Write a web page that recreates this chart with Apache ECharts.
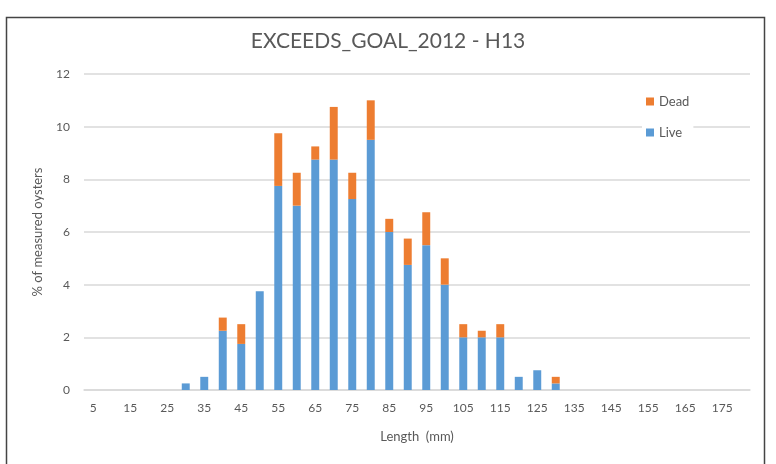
<!DOCTYPE html>
<html><head><meta charset="utf-8">
<script src="https://cdn.jsdelivr.net/npm/echarts@6/dist/echarts.min.js"></script>
<style>html,body{margin:0;padding:0;background:#fff}#c{width:776px;height:464px}</style>
</head><body><div id="c"></div>
<script>
const categories = ['5','10','15','20','25','30','35','40','45','50','55','60','65','70','75','80','85','90','95','100','105','110','115','120','125','130','135','140','145','150','155','160','165','170','175','180'];
const live = [0,0,0,0,0,0.25,0.5,2.25,1.75,3.75,7.75,7,8.75,8.75,7.25,9.5,6,4.75,5.5,4,2,2,2,0.5,0.75,0.25,0,0,0,0,0,0,0,0,0,0];
const dead = [0,0,0,0,0,0,0,0.5,0.75,0,2,1.25,0.5,2,1,1.5,0.5,1,1.25,1,0.5,0.25,0.5,0,0,0.25,0,0,0,0,0,0,0,0,0,0];
const yTicks = [0,2,4,6,8,10,12];

const chart = echarts.init(document.getElementById('c'), null, {renderer:'canvas'});
const txt = '#595959';
const font = 'Lato';
chart.setOption({
  animation:false,
  backgroundColor:'#fff',
  title:{text:'EXCEEDS_GOAL_2012 - H13', left:'center', top:26, textStyle:{color:txt, fontSize:21, fontWeight:'normal', fontFamily:font}},
  legend:{data:['Dead','Live'], orient:'vertical', left:642, top:93, itemWidth:8, itemHeight:8, itemGap:18, icon:'rect', backgroundColor:'#fff', padding:[2,4], textStyle:{color:txt, fontSize:13, fontFamily:font}},
  graphic:[{type:'rect', shape:{x:6.5, y:17.5, width:758, height:470}, style:{fill:null, stroke:'#444', lineWidth:1.5}, silent:true, z:100}],
  grid:{left:84, right:26, top:74, bottom:74},
  xAxis:{type:'category', data:categories, name:'Length  (mm)', nameLocation:'middle', nameGap:40,
    nameTextStyle:{color:txt, fontSize:13, fontFamily:font},
    axisLine:{lineStyle:{color:'#D9D9D9', width:1.5}}, axisTick:{show:false},
    axisLabel:{interval:1, color:txt, fontSize:12, fontFamily:font, margin:12}},
  yAxis:{type:'value', min:yTicks[0], max:yTicks[yTicks.length-1], interval:2, name:'% of measured oysters', nameLocation:'middle', nameGap:40,
    nameTextStyle:{color:txt, fontSize:13, fontFamily:font},
    axisLine:{show:false}, axisTick:{show:false},
    axisLabel:{color:txt, fontSize:12, fontFamily:font, margin:14},
    splitLine:{lineStyle:{color:'#D9D9D9', width:1.5}}},
  series:[
    {name:'Live', type:'bar', stack:'a', data:live, barWidth:'43%', itemStyle:{color:'#5B9BD5'}},
    {name:'Dead', type:'bar', stack:'a', data:dead, barWidth:'43%', itemStyle:{color:'#ED7D31'}}
  ]
});
</script></body></html>
